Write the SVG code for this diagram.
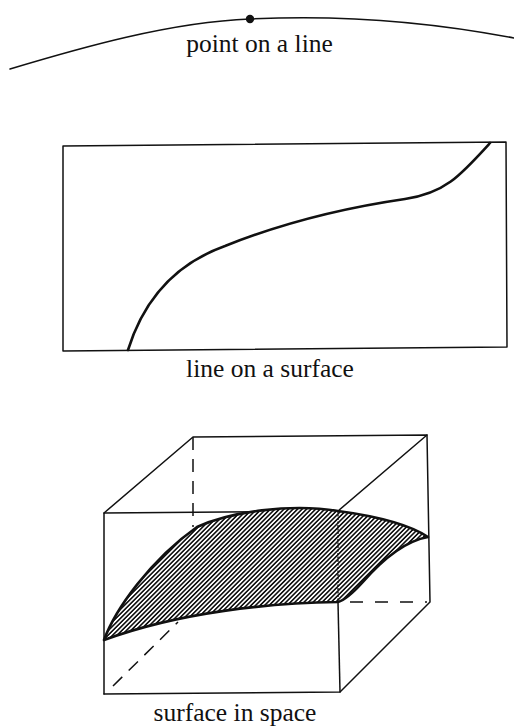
<svg xmlns="http://www.w3.org/2000/svg" width="514" height="728" viewBox="0 0 514 728">
<style>
.lbl{font-family:"Liberation Serif","Times New Roman",serif;font-size:25.5px;fill:#111;text-anchor:middle}
.thin{fill:none;stroke:#111;stroke-width:1.5;stroke-linecap:round;stroke-linejoin:round}
.thick{fill:none;stroke:#111;stroke-width:2.6;stroke-linecap:round;stroke-linejoin:round}
.dash{fill:none;stroke:#111;stroke-width:1.5;stroke-dasharray:13 9}
</style>
<defs>
<pattern id="hatch" patternUnits="userSpaceOnUse" width="3.2" height="3.2" patternTransform="rotate(45)">
<rect width="3.2" height="3.2" fill="#fff"/>
<line x1="0.8" y1="0" x2="0.8" y2="3.2" stroke="#111" stroke-width="1.6"/>
</pattern>
</defs>
<rect width="514" height="728" fill="#fff"/>

<g id="point-on-line">
<path class="thin" d="M10,69 C80,48 170,22 250,19 C330,15 420,20 514,38"/>
<circle cx="250" cy="19" r="4.2" fill="#111"/>
<text class="lbl" x="259.5" y="52">point on a line</text>
</g>

<g id="line-on-surface">
<polygon class="thin" points="63,146 506,142 507,347 63,351"/>
<path class="thick" d="M128,350 C143,302 172,265 225,246 C290,220 350,207 405,199 C445,193 460,176 490,143"/>
<text class="lbl" x="270" y="377">line on a surface</text>
</g>

<g id="surface-in-space">
<line class="dash" x1="193" y1="437" x2="193" y2="527"/>
<line class="dash" x1="113" y1="686" x2="178" y2="622"/>
<line class="dash" x1="350" y1="602" x2="427" y2="602" style="stroke-dasharray:13 12"/>
<polyline class="thin" points="104,694 104,513 338,511"/>
<polyline class="thin" points="104,513 193,437 427,435 430,602 340,692 104,694"/>
<line class="thin" x1="338" y1="511" x2="427" y2="435"/>
<line class="thin" x1="338" y1="602" x2="340" y2="692"/>
<path d="M104,640 C115,610 150,560 197,527 C230,512 290,503 338,511 C375,516 410,525 428,537 C405,541 382,560 362,583 C352,594 345,600 338,602 C270,603 180,612 104,640 Z" fill="url(#hatch)" stroke="#111" stroke-width="2.6" stroke-linejoin="round"/>
<line x1="338" y1="511" x2="338" y2="602" stroke="#111" stroke-width="1.3" stroke-dasharray="2 1.5"/>
<text class="lbl" x="235" y="721">surface in space</text>
</g>
</svg>
